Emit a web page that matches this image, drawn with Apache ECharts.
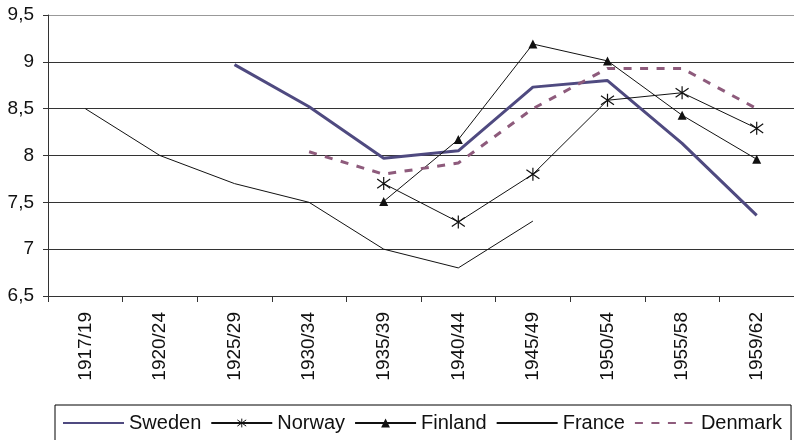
<!DOCTYPE html>
<html>
<head>
<meta charset="utf-8">
<script src="https://cdn.jsdelivr.net/npm/echarts@6/dist/echarts.min.js"></script>
<style>
html,body{margin:0;padding:0;background:#fff;}
#chart{width:794px;height:440px;}
</style>
</head>
<body>
<div id="chart"></div>
<script>
var categories = ['1917/19','1920/24','1925/29','1930/34','1935/39','1940/44','1945/49','1950/54','1955/58','1959/62'];
var sweden  = [null, null, 8.97, 8.52, 7.97, 8.05, 8.73, 8.80, 8.13, 7.36];
var norway  = [null, null, null, null, 7.70, 7.29, 7.80, 8.59, 8.67, 8.29];
var finland = [null, null, null, null, 7.51, 8.17, 9.19, 9.01, 8.43, 7.96];
var france  = [8.5, 8.0, 7.7, 7.5, 7.0, 6.8, 7.3, null, null, null];
var denmark = [null, null, null, 8.04, 7.80, 7.92, 8.50, 8.93, 8.93, 8.50];
var yTicks = { min: 6.5, max: 9.5, step: 0.5 };

var FONT = '"Liberation Sans", Arial, sans-serif';
var asterisk = 'path://M5,0 L5,10 M1,1.5 L9,8.5 M9,1.5 L1,8.5';
var hiddenMark = { color: 'rgba(0,0,0,0)', borderColor: 'rgba(0,0,0,0)', borderWidth: 0 };

var chart = echarts.init(document.getElementById('chart'), null, {renderer:'canvas'});
chart.setOption({
  animation: false,
  backgroundColor: '#fff',
  textStyle: { fontFamily: FONT },
  grid: { left: 48, top: 15, width: 753, height: 281, containLabel: false },
  legend: {
    left: 55, top: 405, width: 780,
    padding: [8, 9, 10, 7],
    borderColor: '#000', borderWidth: 1,
    itemWidth: 61, itemHeight: 11, itemGap: 9,
    textStyle: { fontFamily: FONT, fontSize: 20, color: '#111' },
    data: [
      { name: 'Sweden', itemStyle: hiddenMark },
      { name: 'Norway', itemStyle: { color: 'none', borderColor: '#111', borderWidth: 1 } },
      { name: 'Finland' },
      { name: 'France', itemStyle: hiddenMark },
      { name: 'Denmark', itemStyle: hiddenMark }
    ]
  },
  xAxis: {
    type: 'category', data: categories, boundaryGap: true,
    axisLine: { lineStyle: { color: '#333', width: 1 } },
    axisTick: { show: true, length: 6, lineStyle: { color: '#333' } },
    axisLabel: { rotate: 90, fontSize: 19, color: '#111', fontFamily: FONT, margin: 16, interval: 0 },
    splitLine: { show: false }
  },
  yAxis: {
    type: 'value', min: yTicks.min, max: yTicks.max, interval: yTicks.step,
    axisLine: { show: true, lineStyle: { color: '#333', width: 1 } },
    axisTick: { show: true, length: 5, lineStyle: { color: '#333' } },
    axisLabel: { fontSize: 19, color: '#111', fontFamily: FONT, margin: 14,
      formatter: function(v){ return String(v).replace('.', ','); } },
    splitLine: { show: true, lineStyle: { color: ['#333','#333','#333','#333','#333','#333','#999'], width: 1 } }
  },
  series: [
    { name: 'Sweden', type: 'line', data: sweden, symbol: 'none',
      lineStyle: { color: '#4f4a80', width: 3 }, itemStyle: { color: '#4f4a80' } },
    { name: 'Norway', type: 'line', data: norway, symbol: asterisk, symbolSize: 13,
      lineStyle: { color: '#111', width: 1 },
      itemStyle: { color: 'none', borderColor: '#111', borderWidth: 1.2 } },
    { name: 'Finland', type: 'line', data: finland, symbol: 'triangle', symbolSize: 9,
      lineStyle: { color: '#111', width: 1 }, itemStyle: { color: '#111' } },
    { name: 'France', type: 'line', data: france, symbol: 'none',
      lineStyle: { color: '#111', width: 1 }, itemStyle: { color: '#111' } },
    { name: 'Denmark', type: 'line', data: denmark, symbol: 'none',
      lineStyle: { color: '#8e5b7c', width: 3, type: [8, 8.5] }, itemStyle: { color: '#8e5b7c' } }
  ]
});
</script>
</body>
</html>
